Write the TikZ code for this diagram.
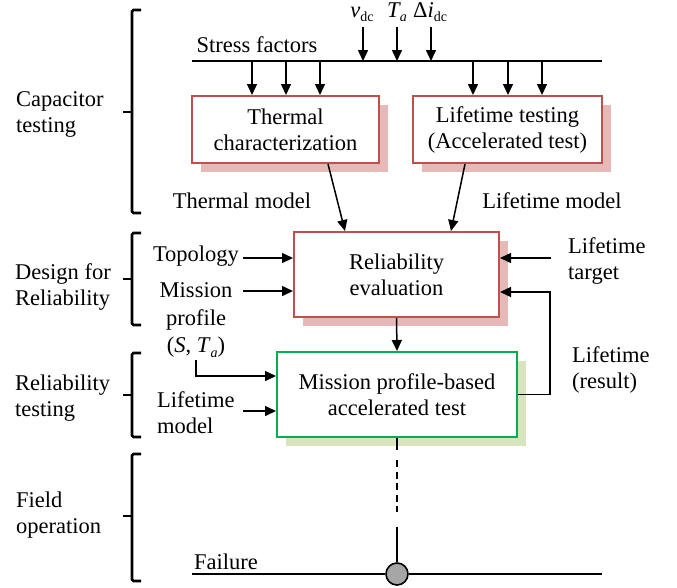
\documentclass[tikz,border=0pt]{standalone}
\usepackage{fontspec}
\setmainfont{Liberation Serif}
\usetikzlibrary{arrows.meta,shadows}
\definecolor{redbd}{RGB}{192,80,77}
\definecolor{redsh}{RGB}{230,184,183}
\definecolor{grnbd}{RGB}{0,176,80}
\definecolor{grnsh}{RGB}{215,228,189}
\definecolor{circfill}{RGB}{166,166,166}
\newcommand\sbs[1]{\raisebox{-0.22em}{\fontsize{14}{14}\selectfont #1}}
\newcommand\secbrace[3]{%
  \draw[bracestyle] (141,#1) -- (132,#1) -- (132,#3) -- (141,#3);
  \draw[bracestyle,line cap=butt] (133,#2) -- (123,#2);}
\begin{document}
\begin{tikzpicture}[x=1pt,y=-1pt,
  every node/.style={font=\fontsize{22.5}{26}\selectfont, inner sep=0pt},
  arr/.style={line width=1.5pt,-{Triangle[length=11pt,width=10pt]}},
  ln/.style={line width=1.6pt},
  bracestyle/.style={line width=2.8pt,rounded corners=1.5pt},
  redbox/.style={draw=redbd,line width=2pt,fill=white,align=center,
    general shadow={shadow xshift=9pt,shadow yshift=-9pt,fill=redsh}},
  grnbox/.style={draw=grnbd,line width=2pt,fill=white,align=center,
    general shadow={shadow xshift=8.5pt,shadow yshift=-8.5pt,fill=grnsh}},
  lbl/.style={align=left,anchor=west}]
\useasboundingbox (0,0) rectangle (677,587);

% braces and section labels
\secbrace{10}{112}{213}
\secbrace{233}{279}{325}
\secbrace{353}{395}{437}
\secbrace{454}{516}{581}
\node[lbl] (lcap) at (16,114) {Capacitor\\testing};
\node[lbl] (ldes) at (15,287) {Design for\\Reliability};
\node[lbl] (lrel) at (15,398) {Reliability\\testing};
\node[lbl] (lfld) at (16,515) {Field\\operation};

% stress factors line
\coordinate (sl) at (192,61);
\coordinate (sr) at (602,61);
\draw[ln] (sl) -- (sr);
\node[anchor=base] (stress) at (257,52) {Stress factors};
\node[anchor=base] (vdc) at (362,17) {\itshape v\sbs{\upshape dc}};
\node[anchor=base] (ta) at (397,17) {\itshape T\sbs{a}};
\node[anchor=base] (didc) at (430,17) {Δ\textit{i}\sbs{dc}};
\coordinate (vin) at (363,27);
\coordinate (tin) at (397,27);
\coordinate (din) at (431,27);
\draw[arr] (vin) -- (vin |- sl);
\draw[arr] (tin) -- (tin |- sl);
\draw[arr] (din) -- (din |- sl);

% testing boxes
\node[redbox,minimum width=187pt,minimum height=67pt] (therm) at (285.5,129.5) {Thermal\\characterization};
\node[redbox,minimum width=189pt,minimum height=67pt] (life) at (507.5,129.5) {Lifetime testing\\(Accelerated test)};
\foreach \xx in {252,286,320}{\draw[arr] (sl -| \xx,0) -- (therm.north -| \xx,0);}
\foreach \xx in {473,508,542}{\draw[arr] (sl -| \xx,0) -- (life.north -| \xx,0);}

\node[anchor=base] (tmod) at (242,208) {Thermal model};
\node[anchor=base] (lmod) at (552,208) {Lifetime model};

% reliability evaluation
\node[redbox,minimum width=205pt,minimum height=85pt] (rel) at (396.5,274.5) {Reliability\\evaluation};
\draw[arr] (therm.south -| 328,0) -- (rel.north -| 345,0);
\draw[arr] (life.south -| 465,0) -- (rel.north -| 451,0);

\node[anchor=base] (topo) at (196,261) {Topology};
\coordinate (topoin) at (243,258);
\draw[arr] (topoin) -- (rel.west |- topoin);
\node[align=center,font=\fontsize{22.5}{27.5}\selectfont] (mprof) at (196,320.5) {Mission\\profile\\(\textit{S}, \textit{T}\sbs{\itshape a})};
\coordinate (mpin) at (243,291);
\draw[arr] (mpin) -- (rel.west |- mpin);

\node[lbl] (ltgt) at (568,261) {Lifetime\\target};
\coordinate (tgtin) at (551,258);
\draw[arr] (tgtin) -- (rel.east |- tgtin);

% accelerated test
\node[grnbox,minimum width=240pt,minimum height=85pt] (acc) at (397,394.5) {Mission profile-based\\accelerated test};
\draw[arr] (rel.south) -- (acc.north);
\coordinate (mpcorner) at (196,376);
\draw[arr] (196,360) -- (mpcorner) -- (acc.west |- mpcorner);
\node[lbl] (lmodl) at (157,413) {Lifetime\\model};
\coordinate (lmin) at (243,411);
\draw[arr] (lmin) -- (acc.west |- lmin);

\coordinate (fbk) at (550,292);
\draw[arr] (acc.east) -| (fbk) -- (rel.east |- fbk);
\node[lbl] (lres) at (572,370) {Lifetime\\(result)};

% field operation
\node[circle,draw,fill=circfill,line width=1.6pt,minimum size=22pt] (fail) at (397,574) {};
\coordinate (fl) at (192,574);
\coordinate (fr) at (602,574);
\draw[ln] (fl) -- (fail.west);
\draw[ln] (fail.east) -- (fr);
\node[anchor=base] (ftxt) at (226,569) {Failure};
\coordinate (d1) at (397,450);
\coordinate (d2) at (397,460);
\coordinate (d3) at (397,512);
\coordinate (d4) at (397,527);
\draw[ln] (acc.south) -- (d1);
\draw[ln,dash pattern=on 7pt off 4.6pt] (d2) -- (d3);
\draw[ln] (d4) -- (fail.north);
\end{tikzpicture}
\end{document}
